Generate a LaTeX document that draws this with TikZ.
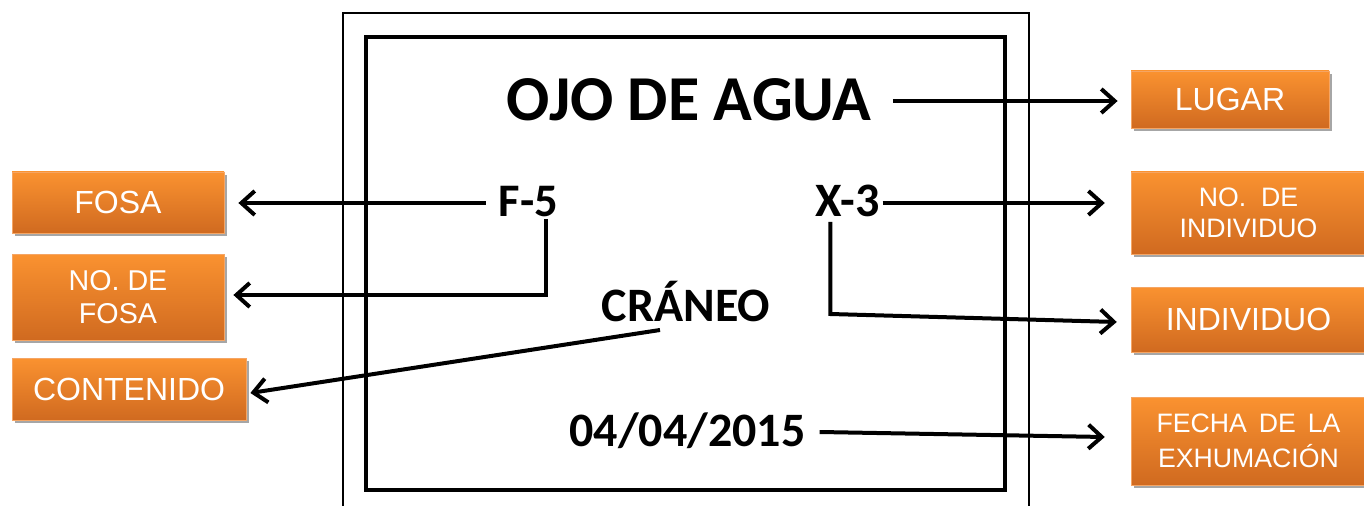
\documentclass[tikz,border=0pt]{standalone}
\usepackage{fontspec}
\setmainfont{Carlito}
\newfontfamily\boxfont{Liberation Sans}
\usetikzlibrary{arrows.meta,calc,shadows}
\definecolor{naranjaA}{RGB}{250,146,48}
\definecolor{naranjaB}{RGB}{208,106,32}
\definecolor{naranjaC}{RGB}{245,165,100}
\newcommand{\tam}[2]{\fontsize{#1}{#2}\selectfont}
\begin{document}
\begin{tikzpicture}[x=0.75pt,y=0.75pt,yscale=-1,xscale=1,
	etiqueta/.style={draw=naranjaC,line width=0.6pt,top color=naranjaA,bottom color=naranjaB,
		text=white,align=center,inner sep=0pt,
		drop shadow={shadow xshift=2pt,shadow yshift=-2.5pt,opacity=0.35,fill=black}},
	dato/.style={font=\bfseries,inner sep=0pt,anchor=base},
	flecha/.style={line width=3pt,-{Straight Barb[length=10pt,width=18pt]}}]
				\useasboundingbox (0,0) rectangle (1364,506);
				% marcos
				\draw [line width=1.5pt] (343,506) -- (343,13) -- (1029,13) -- (1029,506) ;
				\draw [line width=3pt] (366,37) rectangle (1005,490) ;
				% textos de la etiqueta
				\node (ojo) at (689,121) [dato] {\tam{48}{50}OJO DE AGUA};
				\node (fcinco) at (528.5,217) [dato] {\tam{35}{40}F-5};
				\node (xtres) at (847.5,217) [dato] {\tam{36}{40}X-3};
				\node (craneo) at (686,321) [dato] {\tam{36}{40}CRÁNEO};
				\node (fecha) at (687.5,446) [dato] {\tam{36}{40}04/04/2015};
				% recuadros
				\node (lugar) at (1230,99.5) [etiqueta,minimum width=148.5pt,minimum height=42.75pt,font=\boxfont\tam{24}{26}] {LUGAR};
				\node (fosa) at (118,202.5) [etiqueta,minimum width=159pt,minimum height=45.75pt,font=\boxfont\tam{24}{26}] {FOSA};
				\node (nofosa) at (118,297) [etiqueta,minimum width=159pt,minimum height=64.5pt,font=\boxfont\tam{21.5}{25}] {NO. DE\\FOSA};
				\node (contenido) at (129,389) [etiqueta,minimum width=175.5pt,minimum height=46.5pt,font=\boxfont\tam{24}{26}] {CONTENIDO};
				\node (noind) at (1248.5,213) [etiqueta,minimum width=176pt,minimum height=61.5pt,font=\boxfont\tam{20}{23}] {NO.\ \ DE\\INDIVIDUO};
				\node (individuo) at (1248.5,319.5) [etiqueta,minimum width=176pt,minimum height=48.75pt,font=\boxfont\tam{24}{26}] {INDIVIDUO};
				\node (exhum) at (1248.5,441) [etiqueta,minimum width=176pt,minimum height=66pt,font=\boxfont\tam{20}{26}] {\makebox[138pt][s]{FECHA DE LA}\\EXHUMACIÓN};
				% flechas
				\draw [flecha] ($(ojo.base east)+(21,-20)$) -- ($(lugar.west)+(-13,1.5)$) ;
				\draw [flecha] ($(fcinco.base west)+(-13,-14)$) -- ($(fosa.east)+(14,0.5)$) ;
				\draw [flecha] ($(fcinco.base east)+(-12,2)$) |- ($(nofosa.east)+(9,-2)$) ;
				\draw [flecha] ($(craneo.base)+(-26,9)$) -- ($(contenido.east)+(4,4)$) ;
				\draw [flecha] ($(xtres.base east)+(3,-14)$) -- ($(noind.west)+(-26,-10)$) ;
				\draw [flecha] ($(xtres.base west)+(15,5)$) -- ($(xtres.base west)+(15,97)$) -- ($(individuo.west)+(-14,2.5)$) ;
				\draw [flecha] ($(fecha.base east)+(14,-14)$) -- ($(exhum.west)+(-26,-4)$) ;
			\end{tikzpicture}
\end{document}
